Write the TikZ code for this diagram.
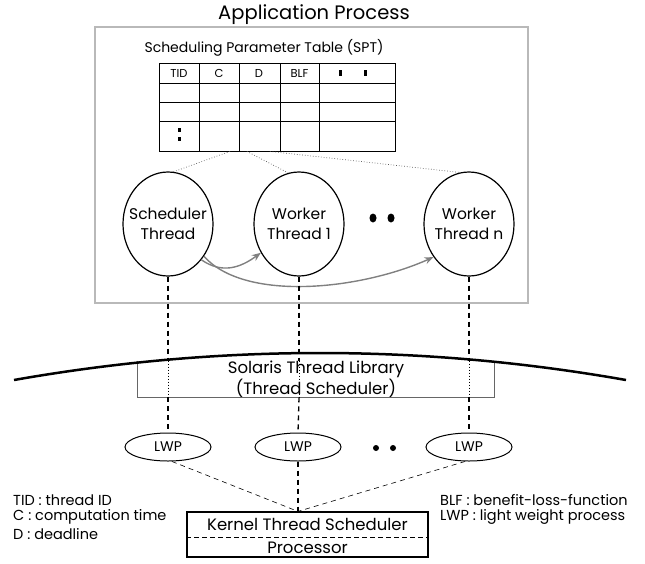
\documentclass[tikz,border=0pt]{standalone}
\usepackage{fontspec}
\setmainfont{Poppins}
\usetikzlibrary{shapes.geometric,arrows.meta,calc}
\begin{document}
\begin{tikzpicture}[x=1pt,y=-1pt,
  every node/.style={inner sep=0pt, font=\fontsize{13}{15}\selectfont},
  thread/.style={ellipse, draw, line width=1.2pt, minimum width=90pt, minimum height=104pt},
  threadtext/.style={align=center, font=\fontsize{15.5}{20}\selectfont},
  lwpnode/.style={ellipse, draw, line width=1pt, minimum width=86pt, minimum height=28pt, font=\fontsize{14}{16}\selectfont},
  garrow/.style={draw=gray, line width=1.4pt, -{Stealth[length=9pt,width=7pt]}},
  dotline/.style={dotted, line width=0.7pt, gray!70!black},
  vdash/.style={line width=1.3pt, dash pattern=on 5pt off 4pt},
  vdot/.style={line width=1pt, dash pattern=on 1pt off 2pt},
  thindash/.style={line width=0.6pt, dash pattern=on 5pt off 4pt},
  hdr/.style={font=\fontsize{11.5}{13}\selectfont},
  legend/.style={anchor=west, font=\fontsize{14.5}{16}\selectfont},
]
\useasboundingbox (0,0) rectangle (645,563);

% application process
\node[font=\fontsize{19.5}{22}\selectfont] (title) at (314,15) {Application Process};
\node[draw=gray!55, line width=2.5pt, minimum width=433pt, minimum height=276pt] (app) at (311.5,165) {};

% SPT table
\node[font=\fontsize{14}{16}\selectfont] (sptcap) at (264,48) {Scheduling Parameter Table (SPT)};
\node[draw, line width=0.8pt, minimum width=236pt, minimum height=88pt] (spt) at (277,107) {};
\foreach \yy in {83,102,121} \draw[line width=0.8pt] (159,\yy) -- (395,\yy);
\foreach \xx in {199,239,280,319} \draw[line width=0.8pt] (\xx,63) -- (\xx,151);
\node[hdr] (hTID) at (179,73) {TID};
\node[hdr] (hC) at (219,73) {C};
\node[hdr] (hD) at (259,73) {D};
\node[hdr] (hBLF) at (299.5,73) {BLF};
\fill (339,70) rectangle (342,76);
\fill (364,70) rectangle (367,76);
\fill (178,128) rectangle (181,132);
\fill (178,137) rectangle (181,141);

% threads
\node[thread, label={[threadtext]center:Scheduler\\Thread}] (sched) at (168,224) {};
\node[thread, label={[threadtext]center:Worker\\Thread 1}] (w1) at (299,224) {};
\node[thread, label={[threadtext]center:Worker\\Thread n}] (wn) at (469,224) {};
\fill (373,218) ellipse (3.5 and 4.5);
\fill (391,218) ellipse (3.5 and 4.5);

\draw[dotline] ($(spt.south)+(-47,0)$) -- (sched.84);
\draw[dotline] ($(spt.south)+(-30,0)$) -- (w1.102);
\draw[dotline] ($(spt.south)+(-7,0)$) -- (wn.100);

\draw[garrow] (sched.-47) .. controls (222,274) and (240,268) .. (w1.-143);
\draw[garrow] (sched.-42) .. controls (245,302) and (360,290) .. (wn.-137);

% thread library
\node[align=center, font=\fontsize{16.5}{17}\selectfont, minimum width=356pt, minimum height=34pt] (lib) at (316,379) {Solaris Thread Library\\(Thread Scheduler)};
\draw[gray!80!black, line width=1pt] (lib.north west) -- (lib.south west) -- (lib.south east) -- (lib.north east);
\coordinate (arcL) at (14,380);
\coordinate (arcR) at (626,380);
\draw[line width=2.5pt] (arcL) .. controls (218,344) and (422,344) .. (arcR);

% LWPs
\node[lwpnode] (lwp1) at (168,447) {LWP};
\node[lwpnode] (lwp2) at (298,447) {LWP};
\node[lwpnode] (lwp3) at (469,447) {LWP};
\fill (376,448) circle (3);
\fill (393,448) circle (3);

\foreach \t/\l in {sched/lwp1, w1/lwp2, wn/lwp3}{
  \draw[vdash] (\t.south) -- (\t.south |- lib.north);
  \draw[vdot] (\t.south |- lib.north) -- (\t.south |- lib.south);
  \draw[vdash] (\t.south |- lib.south) -- (\l.north);
}

% kernel
\node[draw, line width=1.2pt, minimum width=241pt, minimum height=45pt] (kern) at (307.5,534.5) {};
\node[font=\fontsize{16.5}{18}\selectfont] (kts) at (307.5,524) {Kernel Thread Scheduler};
\node[font=\fontsize{16.5}{18}\selectfont] (proc) at (307.5,548) {Processor};
\draw[line width=1.2pt, dash pattern=on 5pt off 3pt] ($(kern.west)+(0,3)$) -- ($(kern.east)+(0,3)$);
\coordinate (meet) at (kern.north -| lwp2);
\draw[thindash] (lwp1.-75) -- (meet);
\draw[vdash] (lwp2.south) -- (meet);
\draw[thindash] (lwp3.-105) -- (meet);

% legend
\node[legend] (lg1) at (13,500) {TID : thread ID};
\node[legend] (lg2) at (13,517) {C : computation time};
\node[legend] (lg3) at (13,534) {D : deadline};
\node[legend] (lg4) at (440,500) {BLF : benefit-loss-function};
\node[legend] (lg5) at (440,517) {LWP : light weight process};
\end{tikzpicture}
\end{document}
